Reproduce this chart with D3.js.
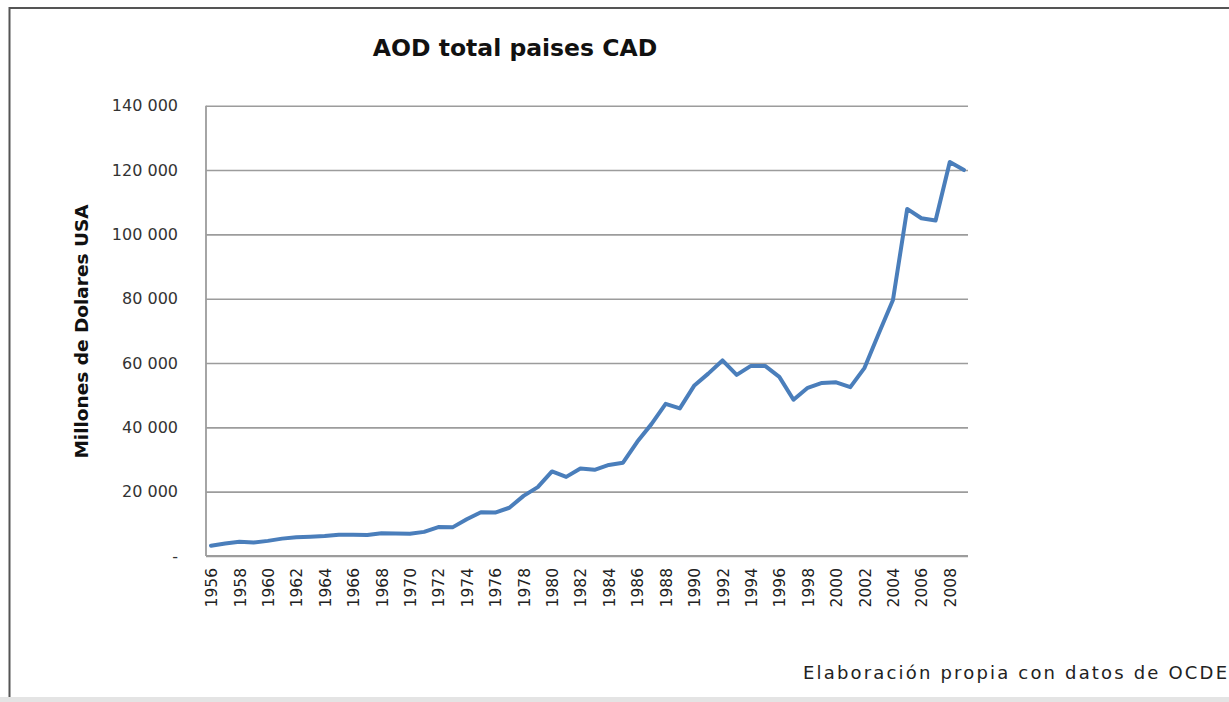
<!DOCTYPE html>
<html>
<head>
<meta charset="utf-8">
<script src="https://cdn.jsdelivr.net/npm/d3@7"></script>
<style>
  html, body { margin: 0; padding: 0; background: #ffffff; }
  svg { display: block; }
</style>
</head>
<body>
<svg id="chart" width="1229" height="702"></svg>
<script>
// ---- Data (millions of US dollars) ----
const years = [1956,1957,1958,1959,1960,1961,1962,1963,1964,1965,
               1966,1967,1968,1969,1970,1971,1972,1973,1974,1975,
               1976,1977,1978,1979,1980,1981,1982,1983,1984,1985,
               1986,1987,1988,1989,1990,1991,1992,1993,1994,1995,
               1996,1997,1998,1999,2000,2001,2002,2003,2004,2005,
               2006,2007,2008,2009];
const aod = [3200,3900,4400,4200,4700,5400,5800,6000,6200,6600,
             6600,6500,7100,7000,6900,7500,9000,8900,11400,13600,
             13500,15000,18700,21400,26300,24600,27200,26800,28300,29000,
             35500,41000,47300,45900,52900,56700,60800,56300,59100,59100,
             55700,48600,52300,53800,54000,52500,58500,69200,79600,107900,
             105000,104300,122500,120000];
const yTicks = [0,20000,40000,60000,80000,100000,120000,140000];
const yTickLabels = ["-","20 000","40 000","60 000","80 000","100 000","120 000","140 000"];
const xTickYears = [1956,1958,1960,1962,1964,1966,1968,1970,1972,1974,1976,1978,1980,
                    1982,1984,1986,1988,1990,1992,1994,1996,1998,2000,2002,2004,2006,2008];
const titleText = "AOD total paises CAD";
const yTitleText = "Millones de Dolares USA";
const sourceText = "Elaboración propia con datos de OCDE";

// ---- Layout ----
const svg = d3.select("#chart");
const plotLeft = 206, plotRight = 968, plotTop = 105.7, plotBottom = 556;

// outer frame
svg.append("rect").attr("x", 0).attr("y", 697).attr("width", 1229).attr("height", 5).attr("fill", "#e4e4e4");
svg.append("line").attr("x1", 9.5).attr("x2", 1229).attr("y1", 8).attr("y2", 8)
   .attr("stroke", "#555").attr("stroke-width", 2);
svg.append("line").attr("x1", 9.5).attr("x2", 9.5).attr("y1", 7).attr("y2", 697)
   .attr("stroke", "#555").attr("stroke-width", 2);

const x = d3.scalePoint().domain(years).range([211, 964]);
const y = d3.scaleLinear().domain([0, 140000]).range([plotBottom, plotTop]);

// Y axis with gridlines
const yAxis = d3.axisLeft(y)
  .tickValues(yTicks)
  .tickFormat((d, i) => yTickLabels[i])
  .tickSize(-(plotRight - plotLeft))
  .tickPadding(28);
const gy = svg.append("g").attr("transform", `translate(${plotLeft},0)`).call(yAxis);
gy.select(".domain").remove();
gy.selectAll(".tick line").attr("stroke", "#9c9c9c").attr("stroke-width", 1.6);
gy.selectAll(".tick text")
  .attr("font-family", "DejaVu Sans, sans-serif")
  .attr("font-size", 16)
  .attr("fill", "#333");

// left axis line
svg.append("line").attr("x1", plotLeft).attr("x2", plotLeft)
   .attr("y1", plotTop).attr("y2", plotBottom)
   .attr("stroke", "#9c9c9c").attr("stroke-width", 1.8);

// X axis
const xAxis = d3.axisBottom(x).tickValues(xTickYears).tickSize(0);
const gx = svg.append("g").attr("transform", `translate(0,${plotBottom})`).call(xAxis);
gx.select(".domain").remove();
gx.selectAll(".tick text")
  .attr("font-family", "DejaVu Sans, sans-serif")
  .attr("font-size", 15.5)
  .attr("fill", "#222")
  .attr("text-anchor", "end")
  .attr("transform", "rotate(-90)")
  .attr("x", -12)
  .attr("y", 0)
  .attr("dy", "0.36em");
svg.append("line").attr("x1", plotLeft).attr("x2", plotRight)
   .attr("y1", plotBottom).attr("y2", plotBottom)
   .attr("stroke", "#9c9c9c").attr("stroke-width", 1.8);

// Line
const line = d3.line()
  .x((d, i) => x(years[i]))
  .y(d => y(d));
svg.append("path")
  .datum(aod)
  .attr("d", line)
  .attr("fill", "none")
  .attr("stroke", "#4a7ebb")
  .attr("stroke-width", 4)
  .attr("stroke-linejoin", "round")
  .attr("stroke-linecap", "round");

// Title
svg.append("text")
  .attr("x", 515).attr("y", 56)
  .attr("text-anchor", "middle")
  .attr("font-family", "DejaVu Sans, sans-serif")
  .attr("font-weight", "bold")
  .attr("font-size", 23.5)
  .attr("fill", "#111")
  .text(titleText);

// Y axis title
svg.append("text")
  .attr("transform", "translate(88,331.5) rotate(-90)")
  .attr("text-anchor", "middle")
  .attr("font-family", "DejaVu Sans, sans-serif")
  .attr("font-weight", "bold")
  .attr("font-size", 18.5)
  .attr("fill", "#111")
  .text(yTitleText);

// Source note
svg.append("text")
  .attr("x", 803).attr("y", 679)
  .attr("font-family", "DejaVu Sans, sans-serif")
  .attr("font-size", 18)
  .attr("fill", "#222")
  .attr("textLength", 424)
  .attr("lengthAdjust", "spacing")
  .text(sourceText);
</script>
</body>
</html>
